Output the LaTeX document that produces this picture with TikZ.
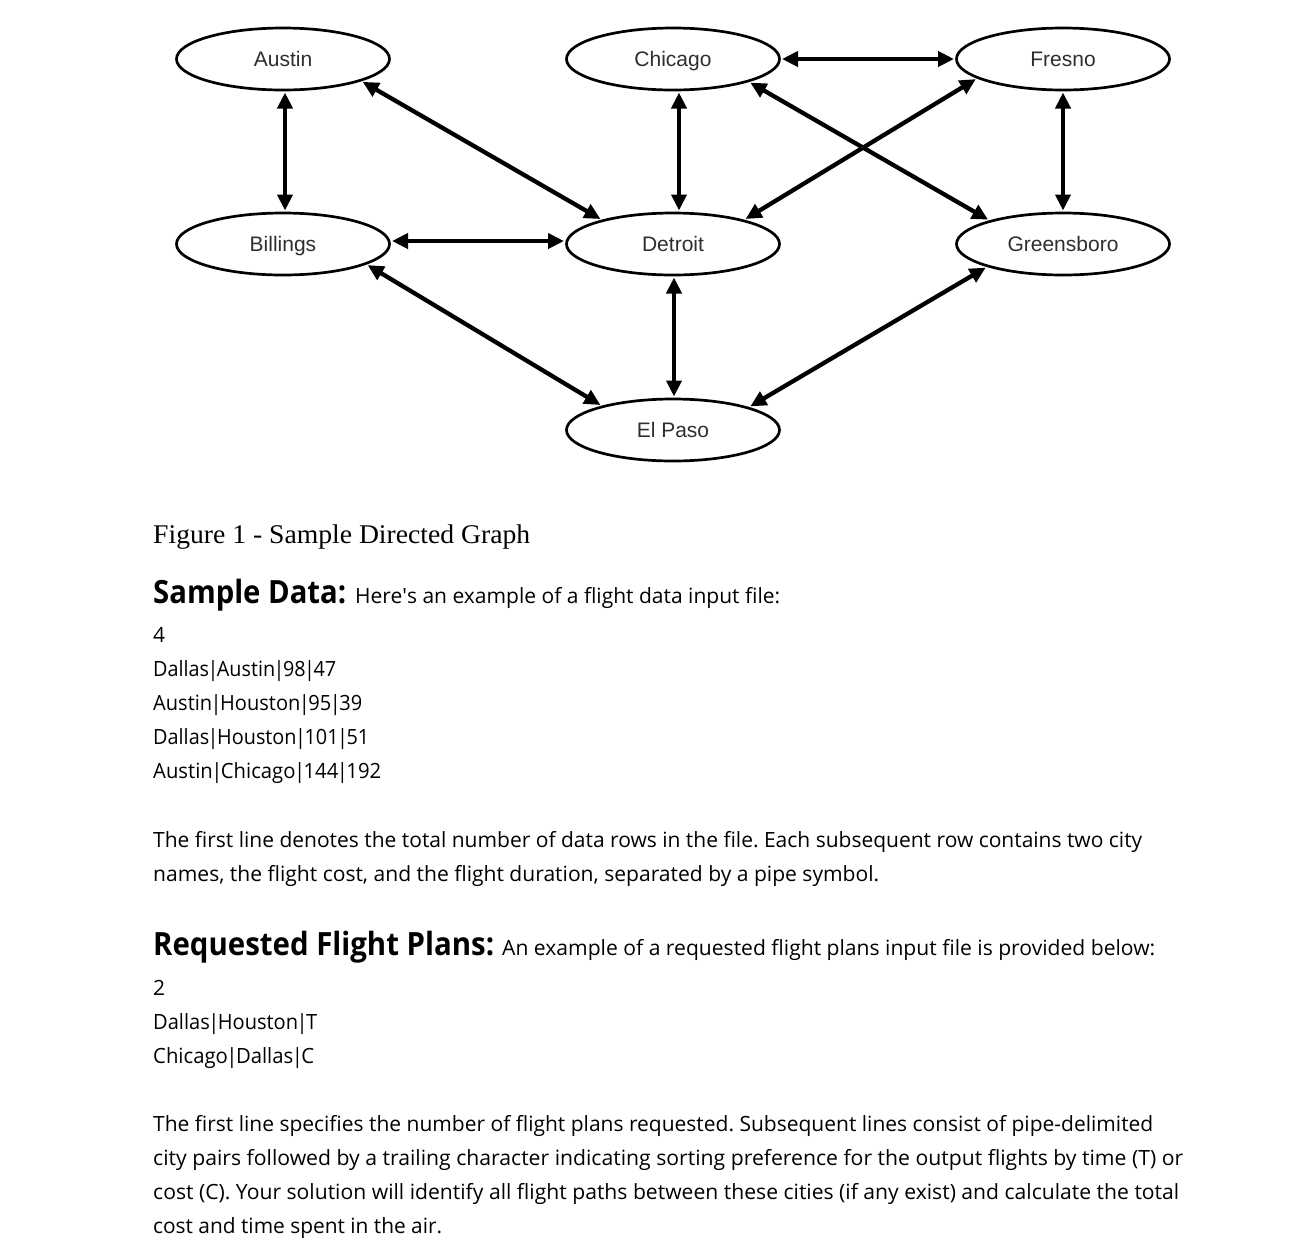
\documentclass[tikz,border=0pt]{standalone}
\usepackage{fontspec}
\usepackage{graphicx}
\setmainfont{Open Sans}
\newfontfamily\capfont{Liberation Serif}
\newfontfamily\lblfont{Liberation Sans}
\usetikzlibrary{shapes.geometric,arrows.meta}
\newcommand{\fitw}[2]{\resizebox{#1}{\height}{#2}}
\newcommand{\pp}{\kern-1.6pt|\kern-1.6pt}
\frenchspacing
\begin{document}
\begin{tikzpicture}[x=1pt,y=-1pt,
  city/.style={ellipse,draw=black,line width=2.7pt,minimum width=213pt,minimum height=62pt,inner sep=0pt,outer sep=2.5pt,text height=16pt,text depth=2pt,font=\lblfont\fontsize{21}{24}\selectfont,text=black!82},
  link/.style={line width=4.3pt,{Triangle[length=16pt,width=15pt]}-{Triangle[length=16pt,width=15pt]}},
  body/.style={anchor=base west,inner sep=0pt,font=\fontsize{21}{25}\selectfont},
  head/.style={anchor=base west,inner sep=0pt,font=\bfseries\fontsize{32}{36}\selectfont},
  capt/.style={anchor=base west,inner sep=0pt,font=\capfont\fontsize{27}{30}\selectfont}]
\useasboundingbox (0,0) rectangle (1312,1243);
% nodes
\node[city] (austin) at (283,59) {Austin};
\node[city] (chicago) at (673,59) {Chicago};
\node[city] (fresno) at (1063,59) {Fresno};
\node[city] (billings) at (283,244) {Billings};
\node[city] (detroit) at (673,244) {Detroit};
\node[city] (greens) at (1063,244) {Greensboro};
\node[city] (elpaso) at (673,430) {El Paso};
% edges
\draw[link] ([xshift=2pt]austin.south) -- ([xshift=2pt]billings.north);
\draw[link] ([xshift=6pt]chicago.south) -- ([xshift=6pt]detroit.north);
\draw[link] (fresno.south) -- (greens.north);
\draw[link] ([xshift=1pt]detroit.south) -- ([xshift=1pt]elpaso.north);
\draw[link] (chicago.east) -- (fresno.west);
\draw[link] ([yshift=3pt]billings.east) -- ([yshift=3pt]detroit.west);
\draw[link] (austin.-16) -- (detroit.161);
\draw[link] (chicago.-17) -- (greens.162);
\draw[link] (fresno.193) -- (detroit.19);
\draw[link] (billings.-14) -- (elpaso.161);
\draw[link] (greens.197) -- (elpaso.17);
% text
\node[capt] (cap) at (153,543) {\fitw{377pt}{Figure 1 - Sample Directed Graph}};
\node[head] (h1) at (153,603) {\fitw{193pt}{Sample Data:}};
\node[body] (h1b) at (355,603) {\fitw{425pt}{Here\textquotesingle s an example of a flight data input file:}};
\node[body] (d0) at (153,642) {4};
\node[body] (d1) at (153,676) {\fitw{183pt}{Dallas\pp Austin\pp 98\pp 47}};
\node[body] (d2) at (153,710) {\fitw{209pt}{Austin\pp Houston\pp 95\pp 39}};
\node[body] (d3) at (153,744) {\fitw{216pt}{Dallas\pp Houston\pp 101\pp 51}};
\node[body] (d4) at (153,778) {\fitw{228pt}{Austin\pp Chicago\pp 144\pp 192}};
\node[body] (p1) at (153,847) {\fitw{989pt}{The first line denotes the total number of data rows in the file. Each subsequent row contains two city}};
\node[body] (p2) at (153,881) {\fitw{726pt}{names, the flight cost, and the flight duration, separated by a pipe symbol.}};
\node[head] (h2) at (153,955) {\fitw{341pt}{Requested Flight Plans:}};
\node[body] (h2b) at (502,955) {\fitw{653pt}{An example of a requested flight plans input file is provided below:}};
\node[body] (r0) at (153,995) {2};
\node[body] (r1) at (153,1029) {\fitw{164pt}{Dallas\pp Houston\pp T}};
\node[body] (r2) at (153,1063) {\fitw{161pt}{Chicago\pp Dallas\pp C}};
\node[body] (q1) at (153,1131) {\fitw{1000pt}{The first line specifies the number of flight plans requested. Subsequent lines consist of pipe-delimited}};
\node[body] (q2) at (153,1165) {\fitw{1030pt}{city pairs followed by a trailing character indicating sorting preference for the output flights by time (T) or}};
\node[body] (q3) at (153,1199) {\fitw{1026pt}{cost (C). Your solution will identify all flight paths between these cities (if any exist) and calculate the total}};
\node[body] (q4) at (153,1233) {\fitw{289pt}{cost and time spent in the air.}};
\end{tikzpicture}
\end{document}
